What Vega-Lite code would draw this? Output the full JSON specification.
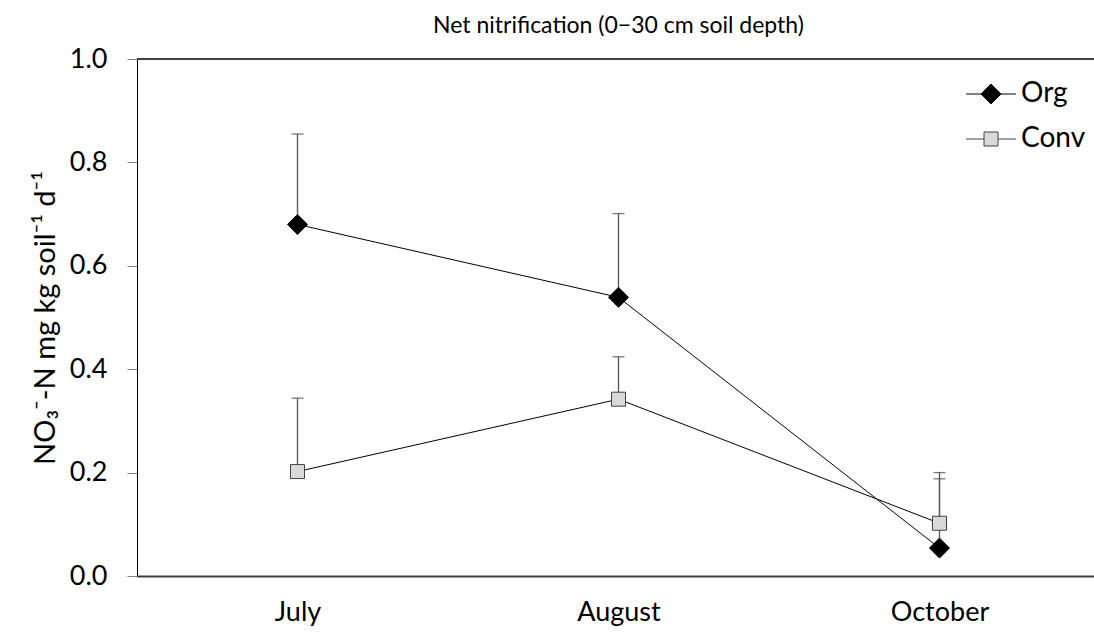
{
  "$schema": "https://vega.github.io/schema/vega-lite/v6.json",
  "width": 963,
  "height": 517,
  "autosize": {"type": "none"},
  "padding": {"left": 137, "top": 59, "right": 0, "bottom": 58},
  "background": "white",
  "config": {"font": "Lato", "view": {"stroke": null}},
  "title": {
    "text": "Net nitrification (0−30 cm soil depth)",
    "fontSize": 23,
    "fontWeight": "normal",
    "color": "black",
    "anchor": "middle",
    "offset": 7
  },
  "data": {
    "values": [
      {"month": "July", "idx": 0, "series": "Org", "value": 0.680, "upper": 0.855},
      {"month": "August", "idx": 1, "series": "Org", "value": 0.539, "upper": 0.701},
      {"month": "October", "idx": 2, "series": "Org", "value": 0.054, "upper": 0.200},
      {"month": "July", "idx": 0, "series": "Conv", "value": 0.202, "upper": 0.344},
      {"month": "August", "idx": 1, "series": "Conv", "value": 0.342, "upper": 0.424},
      {"month": "October", "idx": 2, "series": "Conv", "value": 0.102, "upper": 0.188}
    ]
  },
  "encoding": {
    "x": {
      "field": "month",
      "type": "ordinal",
      "sort": ["July", "August", "October"],
      "scale": {"type": "point", "padding": 0.5},
      "axis": {
        "title": null,
        "labelAngle": 0,
        "labelFontSize": 27,
        "labelColor": "black",
        "labelPadding": 23,
        "ticks": false,
        "domainColor": "#404040",
        "domainWidth": 2
      }
    }
  },
  "layer": [
    {
      "mark": {"type": "rule", "color": "#404040", "strokeWidth": 1.5},
      "encoding": {"x": null, "y": {"datum": 1, "type": "quantitative"}}
    },
    {
      "mark": {"type": "line", "color": "black", "strokeWidth": 1},
      "encoding": {
        "y": {
          "field": "value",
          "type": "quantitative",
          "scale": {"domain": [0, 1], "nice": false},
          "axis": {
            "title": "NO₃⁻-N mg kg soil⁻¹ d⁻¹",
            "titleFontSize": 29,
            "titleFontWeight": "normal",
            "titleColor": "black",
            "titlePadding": 9,
            "values": [0, 0.2, 0.4, 0.6, 0.8, 1.0],
            "format": ".1f",
            "labelFontSize": 27,
            "labelColor": "black",
            "labelPadding": 20,
            "tickSize": 10,
            "tickColor": "#808080",
            "domainColor": "black",
            "domainWidth": 1,
            "grid": false
          }
        },
        "detail": {"field": "series"},
        "order": {"field": "idx"}
      }
    },
    {
      "mark": {"type": "rule", "color": "#555555", "strokeWidth": 1.3},
      "encoding": {
        "y": {"field": "value", "type": "quantitative"},
        "y2": {"field": "upper"}
      }
    },
    {
      "mark": {"type": "tick", "color": "#404040", "size": 12, "thickness": 1.3},
      "encoding": {"y": {"field": "upper", "type": "quantitative"}}
    },
    {
      "mark": {"type": "point", "size": 400, "strokeWidth": 1, "opacity": 1},
      "encoding": {
        "y": {"field": "value", "type": "quantitative"},
        "shape": {
          "field": "series",
          "type": "nominal",
          "scale": {
            "domain": ["Org", "Conv"],
            "range": ["M-1,0L0,-1L1,0L0,1Z", "M-0.7,-0.7L0.7,-0.7L0.7,0.7L-0.7,0.7Z"]
          },
          "legend": null
        },
        "fill": {
          "field": "series",
          "type": "nominal",
          "scale": {"domain": ["Org", "Conv"], "range": ["black", "#d9d9d9"]},
          "legend": null
        },
        "stroke": {
          "field": "series",
          "type": "nominal",
          "scale": {"domain": ["Org", "Conv"], "range": ["black", "#404040"]},
          "legend": null
        }
      }
    },
    {
      "transform": [{"filter": "datum.value < 0"}],
      "mark": {"type": "point", "size": 400, "strokeWidth": 1, "opacity": 1},
      "encoding": {
        "y": {"field": "value", "type": "quantitative"},
        "shape": {
          "field": "series",
          "type": "nominal",
          "scale": {
            "domain": ["Org", "Conv"],
            "range": [
              "M-2.5,0L-1,0M1,0L2.5,0M-1,0L0,-1L1,0L0,1Z",
              "M-2.5,0L-0.7,0M0.7,0L2.5,0M-0.7,-0.7L0.7,-0.7L0.7,0.7L-0.7,0.7Z"
            ]
          },
          "legend": {
            "title": null,
            "orient": "none",
            "legendX": 840,
            "legendY": 21,
            "padding": 0,
            "symbolSize": 400,
            "symbolStrokeWidth": 1,
            "labelFontSize": 28,
            "labelColor": "black",
            "labelOffset": 16,
            "rowPadding": 17
          }
        },
        "fill": {
          "field": "series",
          "type": "nominal",
          "scale": {"domain": ["Org", "Conv"], "range": ["black", "#d9d9d9"]},
          "legend": {
            "title": null,
            "orient": "none",
            "legendX": 840,
            "legendY": 21,
            "padding": 0,
            "symbolSize": 400,
            "symbolStrokeWidth": 1,
            "labelFontSize": 28,
            "labelColor": "black",
            "labelOffset": 16,
            "rowPadding": 17
          }
        },
        "stroke": {
          "field": "series",
          "type": "nominal",
          "scale": {"domain": ["Org", "Conv"], "range": ["black", "#404040"]},
          "legend": {
            "title": null,
            "orient": "none",
            "legendX": 840,
            "legendY": 21,
            "padding": 0,
            "symbolSize": 400,
            "symbolStrokeWidth": 1,
            "labelFontSize": 28,
            "labelColor": "black",
            "labelOffset": 16,
            "rowPadding": 17
          }
        }
      }
    }
  ],
  "resolve": {
    "scale": {"shape": "independent", "fill": "independent", "stroke": "independent"}
  }
}
